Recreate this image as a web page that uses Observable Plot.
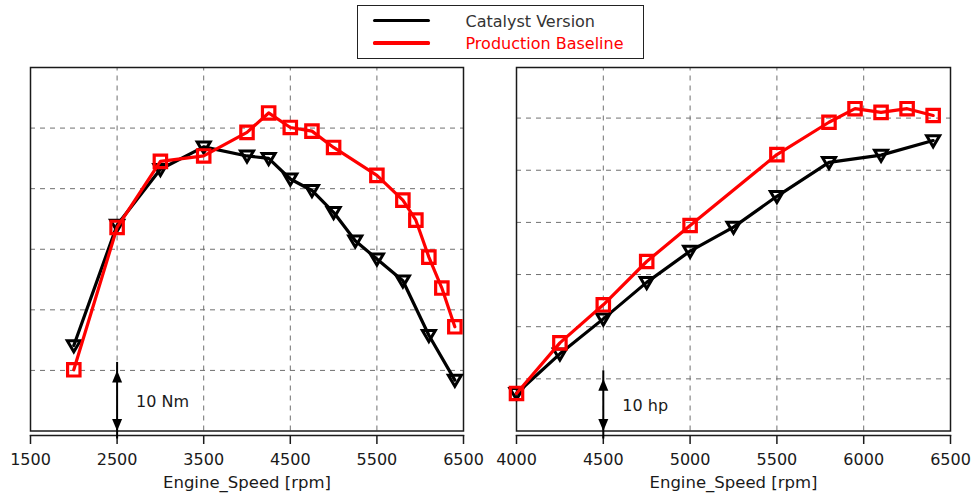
<!DOCTYPE html>
<html>
<head>
<meta charset="utf-8">
<script src="https://cdn.jsdelivr.net/npm/d3@7"></script>
<script src="https://cdn.jsdelivr.net/npm/@observablehq/plot@0.6"></script>
<style>
  html, body { margin: 0; padding: 0; background: #fff; }
  #wrap { position: relative; width: 972px; height: 494px; overflow: hidden; font-family: "DejaVu Sans", sans-serif; }
  #legend { position: absolute; left: 357px; top: 5px; width: 285px; height: 52px; border: 1.5px solid #222; background: #fff; box-sizing: content-box; }
  .lg-line { position: absolute; left: 14.5px; width: 57px; height: 3.5px; border-radius: 1.5px; }
  .lg-text { position: absolute; left: 107.5px; font-size: 16px; line-height: 18px; white-space: nowrap; }
  #left { position: absolute; left: 0; top: 62px; }
  #right { position: absolute; left: 490px; top: 62px; }
</style>
</head>
<body>
<div id="wrap">
  <div id="left"></div>
  <div id="right"></div>
  <div id="legend"></div>
</div>
<script>
// ---------- data ----------
const seriesNames = ["Catalyst Version", "Production Baseline"];
const seriesColors = ["#000000", "#ff0000"];
const xLabel = "Engine_Speed [rpm]";

// Torque panel (left)
const torqueCatalystRpm = [2000, 2500, 3000, 3500, 4000, 4250, 4500, 4750, 5000, 5250, 5500, 5800, 6100, 6400];
const torqueCatalyst    = [114.1, 134.0, 143.2, 146.9, 145.4, 145.0, 141.6, 139.7, 136.1, 131.4, 128.4, 124.8, 115.8, 108.4];
const torqueBaselineRpm = [2000, 2500, 3000, 3500, 4000, 4250, 4500, 4750, 5000, 5500, 5800, 5950, 6100, 6250, 6400];
const torqueBaseline    = [110.1, 133.6, 144.5, 145.4, 149.3, 152.5, 150.1, 149.5, 146.8, 142.2, 138.1, 134.8, 128.7, 123.6, 117.2];
const torqueXDomain = [1500, 6500];
const torqueXTicks  = [1500, 2500, 3500, 4500, 5500, 6500];
const torqueYDomain = [100, 160];
const torqueYGrid   = [110, 120, 130, 140, 150];
const torqueScaleBar = {x: 2500, from: 100, to: 110, label: "10 Nm"};

// Power panel (right)
const powerCatalystRpm = [4000, 4250, 4500, 4750, 5000, 5250, 5500, 5800, 6100, 6400];
const powerCatalyst    = [67.2, 74.8, 81.5, 88.5, 94.5, 99.1, 105.0, 111.5, 112.9, 115.7];
const powerBaselineRpm = [4000, 4250, 4500, 4750, 5000, 5500, 5800, 5950, 6100, 6250, 6400];
const powerBaseline    = [67.2, 76.9, 84.2, 92.5, 99.4, 113.0, 119.2, 121.8, 121.1, 121.8, 120.5];
const powerXDomain = [4000, 6500];
const powerXTicks  = [4000, 4500, 5000, 5500, 6000, 6500];
const powerYDomain = [60, 129.7];
const powerYGrid   = [70, 80, 90, 100, 110, 120];
const powerScaleBar = {x: 4500, from: 60, to: 70, label: "10 hp"};

// ---------- symbols ----------
const triDown = {
  draw(ctx, size) {
    const r = Math.sqrt(size / Math.PI);
    ctx.moveTo(-r, -r * 0.75);
    ctx.lineTo(r, -r * 0.75);
    ctx.lineTo(0, r * 0.95);
    ctx.closePath();
  }
};
const headUp = { // tip at origin, body below
  draw(ctx, size) {
    const r = Math.sqrt(size / Math.PI);
    ctx.moveTo(0, 0);
    ctx.lineTo(-r, r * 2.4);
    ctx.lineTo(r, r * 2.4);
    ctx.closePath();
  }
};
const headDown = { // tip at origin, body above
  draw(ctx, size) {
    const r = Math.sqrt(size / Math.PI);
    ctx.moveTo(0, 0);
    ctx.lineTo(-r, -r * 2.4);
    ctx.lineTo(r, -r * 2.4);
    ctx.closePath();
  }
};

const H = 432, MT = 5, MB = 59, FRAME_GAP = 4.5;
const ink = "#1a1a1a";

function panel({rpmA, valA, rpmB, valB, xDomain, xTicks, yDomain, yGrid, bar, width, marginLeft, marginRight}) {
  const A = rpmA.map((x, i) => ({x, y: valA[i]}));
  const B = rpmB.map((x, i) => ({x, y: valB[i]}));
  return Plot.plot({
    width, height: H, marginTop: MT, marginBottom: MB, marginLeft, marginRight,
    style: {fontFamily: "'DejaVu Sans', sans-serif", fontSize: "16px", color: ink, background: "transparent", overflow: "visible"},
    x: {domain: xDomain},
    y: {domain: yDomain, range: [H - MB - FRAME_GAP, MT], axis: null},
    marks: [
      Plot.ruleX(xTicks, {y1: yDomain[0], y2: yDomain[1], stroke: "#707070", strokeWidth: 1, strokeDasharray: "5,5"}),
      Plot.ruleY(yGrid, {stroke: "#707070", strokeWidth: 1, strokeDasharray: "5,5"}),
      Plot.frame({insetBottom: FRAME_GAP, stroke: ink, strokeWidth: 1.5}),
      Plot.frame({anchor: "bottom", stroke: ink, strokeWidth: 1.5}),
      Plot.axisX({ticks: xTicks, tickFormat: d => String(d), tickSize: 9, tickPadding: 9, label: null, stroke: ink, strokeWidth: 1.5, fill: ink}),
      Plot.text([xLabel], {frameAnchor: "bottom", dy: 47, lineAnchor: "middle", fill: ink, fontSize: 16.5}),
      // scale bar annotation
      Plot.ruleX([bar], {x: "x", y1: "from", y2: "to", stroke: "#000", strokeWidth: 2, insetTop: 8, insetBottom: 8}),
      Plot.dot([bar], {x: "x", y: "to", symbol: headUp, r: 5, fill: "#000", stroke: "none"}),
      Plot.dot([bar], {x: "x", y: "from", symbol: headDown, r: 5, fill: "#000", stroke: "none"}),
      Plot.text([bar], {x: "x", y: d => (d.from + d.to) / 2, text: "label", dx: 19, dy: 1, textAnchor: "start", fill: ink, fontSize: 16}),
      // series
      Plot.line(A, {x: "x", y: "y", stroke: seriesColors[0], strokeWidth: 3.2}),
      Plot.dot(A, {x: "x", y: "y", symbol: triDown, r: 6.5, stroke: seriesColors[0], strokeWidth: 3, fill: "none"}),
      Plot.line(B, {x: "x", y: "y", stroke: seriesColors[1], strokeWidth: 3.2}),
      Plot.dot(B, {x: "x", y: "y", symbol: "square", r: 7, stroke: seriesColors[1], strokeWidth: 3.2, fill: "none"})
    ]
  });
}

document.getElementById("left").append(panel({
  rpmA: torqueCatalystRpm, valA: torqueCatalyst, rpmB: torqueBaselineRpm, valB: torqueBaseline,
  xDomain: torqueXDomain, xTicks: torqueXTicks, yDomain: torqueYDomain, yGrid: torqueYGrid,
  bar: torqueScaleBar, width: 490, marginLeft: 30, marginRight: 27
}));
document.getElementById("right").append(panel({
  rpmA: powerCatalystRpm, valA: powerCatalyst, rpmB: powerBaselineRpm, valB: powerBaseline,
  xDomain: powerXDomain, xTicks: powerXTicks, yDomain: powerYDomain, yGrid: powerYGrid,
  bar: powerScaleBar, width: 482, marginLeft: 26, marginRight: 22
}));

// legend
const legend = document.getElementById("legend");
seriesNames.forEach((name, i) => {
  const line = document.createElement("div");
  line.className = "lg-line";
  line.style.background = seriesColors[i];
  line.style.top = (12.5 + i * 22.6) + "px";
  legend.append(line);
  const t = document.createElement("div");
  t.className = "lg-text";
  t.textContent = name;
  t.style.color = i === 0 ? "#333" : seriesColors[i];
  t.style.top = (6.5 + i * 22.6) + "px";
  legend.append(t);
});
</script>
</body>
</html>
